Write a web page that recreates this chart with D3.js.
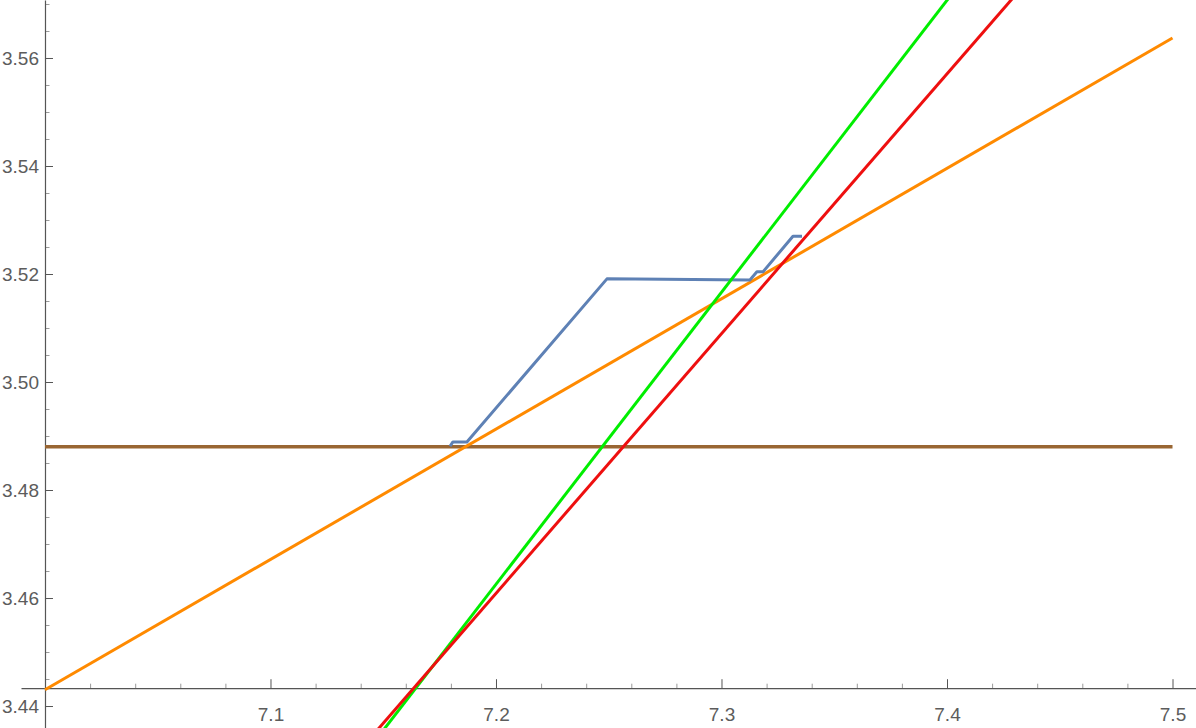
<!DOCTYPE html>
<html>
<head>
<meta charset="utf-8">
<script src="https://cdn.jsdelivr.net/npm/d3@7"></script>
<style>
  html, body { margin: 0; padding: 0; background: #ffffff; }
  svg { display: block; }
</style>
</head>
<body>
<svg id="chart" width="1196" height="728"></svg>
<script>
// ---- data ----
const xMajorTicks = [7.1, 7.2, 7.3, 7.4, 7.5];
const yMajorTicks = [3.44, 3.46, 3.48, 3.50, 3.52, 3.54, 3.56];
const xMinorTicks = [7.02, 7.04, 7.06, 7.08, 7.12, 7.14, 7.16, 7.18, 7.22, 7.24, 7.26, 7.28,
                     7.32, 7.34, 7.36, 7.38, 7.42, 7.44, 7.46, 7.48];
const yMinorTicks = [3.445, 3.45, 3.455, 3.465, 3.47, 3.475, 3.485, 3.49, 3.495, 3.505, 3.51, 3.515,
                     3.525, 3.53, 3.535, 3.545, 3.55, 3.555, 3.565, 3.57];

const brownX = [7.0, 7.5];
const brownY = [3.488, 3.488];
const orangeX = [7.0, 7.5];
const orangeY = [3.443, 3.5637];
const blueX = [7.1796, 7.1809, 7.1871, 7.2492, 7.3126, 7.3157, 7.3184, 7.3317, 7.3357];
const blueY = [3.4881, 3.4889, 3.4889, 3.5191, 3.5189, 3.5204, 3.5204, 3.5270, 3.5270];
const greenX = [7.14, 7.42];
const greenY = [3.4301, 3.5815];
const redX = [7.14, 7.44];
const redY = [3.4320, 3.5763];

const xDomain = [6.98936, 7.51042];
const yDomain = [3.43593, 3.57074];
const axisOriginX = 7.0;
const axisOriginY = 3.4433;

// ---- chart ----
const W = 1196, H = 728;
const svg = d3.select("#chart");
const x = d3.scaleLinear().domain(xDomain).range([21, W]);
const y = d3.scaleLinear().domain(yDomain).range([H, 0]);

const zip = (xs, ys) => xs.map((v, i) => [v, ys[i]]);
const line = d3.line().x(d => x(d[0])).y(d => y(d[1]));

svg.append("defs").append("clipPath").attr("id", "clip")
  .append("rect").attr("x", 0).attr("y", 0).attr("width", W).attr("height", H);

// minor ticks
svg.append("g")
  .attr("transform", `translate(0,${y(axisOriginY)})`)
  .call(d3.axisBottom(x).tickValues(xMinorTicks).tickSize(-4.5).tickSizeOuter(0).tickFormat(""))
  .call(g => g.select(".domain").remove())
  .call(g => g.selectAll(".tick line").attr("stroke", "#9a9a9a").attr("stroke-width", 1));
svg.append("g")
  .attr("transform", `translate(${x(axisOriginX)},0)`)
  .call(d3.axisLeft(y).tickValues(yMinorTicks).tickSize(-4.5).tickSizeOuter(0).tickFormat(""))
  .call(g => g.select(".domain").remove())
  .call(g => g.selectAll(".tick line").attr("stroke", "#9a9a9a").attr("stroke-width", 1));

// major axes
const xAxis = svg.append("g")
  .attr("transform", `translate(0,${y(axisOriginY)})`)
  .call(d3.axisBottom(x).tickValues(xMajorTicks).tickSize(-9).tickSizeOuter(0)
        .tickPadding(19).tickFormat(d3.format(".1f")));
const yAxis = svg.append("g")
  .attr("transform", `translate(${x(axisOriginX)},0)`)
  .call(d3.axisLeft(y).tickValues(yMajorTicks).tickSize(-8).tickSizeOuter(0)
        .tickPadding(6).tickFormat(d3.format(".2f")));
[xAxis, yAxis].forEach(g => {
  g.select(".domain").attr("stroke", "#555555").attr("stroke-width", 1.2);
  g.selectAll(".tick line").attr("stroke", "#555555").attr("stroke-width", 1);
  g.selectAll(".tick text").attr("fill", "#5c5c5c").attr("font-size", 19)
    .attr("font-family", "'Liberation Sans', Arial, sans-serif");
});

// series
const plot = svg.append("g").attr("clip-path", "url(#clip)");
const series = [
  { xs: brownX, ys: brownY, color: "#996633", w: 3.4 },
  { xs: orangeX, ys: orangeY, color: "#ff8a00", w: 3 },
  { xs: blueX, ys: blueY, color: "#5e81b5", w: 3 },
  { xs: greenX, ys: greenY, color: "#00ee00", w: 3 },
  { xs: redX, ys: redY, color: "#ee0f0f", w: 3 }
];
series.forEach(s => {
  plot.append("path")
    .datum(zip(s.xs, s.ys))
    .attr("fill", "none")
    .attr("stroke", s.color)
    .attr("stroke-width", s.w)
    .attr("stroke-linejoin", "round")
    .attr("d", line);
});
</script>
</body>
</html>
